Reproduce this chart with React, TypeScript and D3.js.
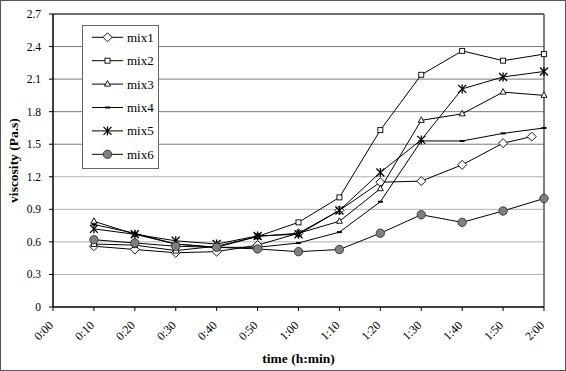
import * as d3 from "d3";

const W = 566;
const H = 371;
const M = { top: 14, right: 22, bottom: 64, left: 53 };

// time in minutes
const times = [10, 20, 30, 40, 50, 60, 70, 80, 90, 100, 110, 120];
const mix1Times = [10, 20, 30, 40, 50, 60, 70, 80, 90, 100, 110, 117];
const tickLabels = ["0:00", "0:10", "0:20", "0:30", "0:40", "0:50", "1:00", "1:10", "1:20", "1:30", "1:40", "1:50", "2:00"];
const yTicks = [0, 0.3, 0.6, 0.9, 1.2, 1.5, 1.8, 2.1, 2.4, 2.7];

const mix1 = [0.56, 0.53, 0.5, 0.51, 0.57, 0.68, 0.89, 1.15, 1.16, 1.31, 1.51, 1.57];
const mix2 = [0.58, 0.57, 0.52, 0.56, 0.65, 0.78, 1.01, 1.63, 2.14, 2.36, 2.27, 2.33];
const mix3 = [0.79, 0.67, 0.58, 0.55, 0.65, 0.68, 0.79, 1.09, 1.72, 1.78, 1.98, 1.95];
const mix4 = [0.76, 0.68, 0.58, 0.55, 0.55, 0.59, 0.69, 0.97, 1.53, 1.53, 1.6, 1.65];
const mix5 = [0.72, 0.67, 0.61, 0.58, 0.655, 0.67, 0.89, 1.24, 1.54, 2.01, 2.12, 2.17];
const mix6 = [0.62, 0.59, 0.56, 0.55, 0.535, 0.51, 0.53, 0.68, 0.85, 0.78, 0.885, 1.0];

const seriesNames = ["mix1", "mix2", "mix3", "mix4", "mix5", "mix6"];
const seriesValues = [mix1, mix2, mix3, mix4, mix5, mix6];
const seriesTimes = [mix1Times, times, times, times, times, times];

const FONT = "'Liberation Serif', 'Times New Roman', serif";

const Marker = ({ kind, x, y }: { kind: number; x: number; y: number }) => {
  if (kind === 0) {
    const s = 4.5;
    return (
      <path
        d={`M${x},${y - s}L${x + s},${y}L${x},${y + s}L${x - s},${y}Z`}
        fill="white"
        stroke="black"
        strokeWidth={0.9}
      />
    );
  }
  if (kind === 1) {
    return <rect x={x - 2.5} y={y - 2.5} width={5} height={5} fill="white" stroke="black" strokeWidth={0.9} />;
  }
  if (kind === 2) {
    return (
      <path
        d={`M${x},${y - 3.5}L${x + 3},${y + 2}L${x - 3},${y + 2}Z`}
        fill="white"
        stroke="black"
        strokeWidth={0.9}
      />
    );
  }
  if (kind === 3) {
    return <rect x={x - 2.5} y={y - 1} width={5} height={2} fill="black" />;
  }
  if (kind === 4) {
    const s = 4;
    return (
      <g stroke="black" strokeWidth={1.3}>
        <line x1={x - s} y1={y - s} x2={x + s} y2={y + s} />
        <line x1={x - s} y1={y + s} x2={x + s} y2={y - s} />
        <line x1={x} y1={y - s - 0.5} x2={x} y2={y + s + 0.5} />
      </g>
    );
  }
  return <circle cx={x} cy={y} r={4.2} fill="#7f7f7f" stroke="#333" strokeWidth={0.9} />;
};

export default function App() {
  const x = d3.scaleLinear().domain([0, 120]).range([M.left, W - M.right]);
  const y = d3.scaleLinear().domain([0, 2.7]).range([H - M.bottom, M.top]);
  const line = d3
    .line<[number, number]>()
    .x((d) => x(d[0]))
    .y((d) => y(d[1]));

  const x0 = M.left;
  const x1 = W - M.right;
  const yb = H - M.bottom;

  const legend = { x: 82, y: 25, w: 76, h: 143 };

  return (
    <>
      <style>{`body{margin:0}`}</style>
      <svg width={W} height={H} style={{ display: "block" }} fontFamily={FONT}>
        <rect x={0.5} y={0.5} width={W - 1} height={H - 1} fill="white" stroke="#555" />

        {/* gridlines */}
        {yTicks.slice(1).map((t) => (
          <line key={t} x1={x0} x2={x1} y1={y(t)} y2={y(t)} stroke={t >= 1.5 ? "#7a7a7a" : "#b0b0b0"} strokeWidth={1} />
        ))}
        <line x1={x0} x2={x1} y1={y(2.7)} y2={y(2.7)} stroke="#555" strokeWidth={1.5} />
        <line x1={x1} x2={x1} y1={y(2.7)} y2={yb} stroke="#555" strokeWidth={1.5} />

        {/* axes */}
        <line x1={x0} x2={x0} y1={M.top} y2={yb} stroke="black" strokeWidth={1.5} />
        <line x1={x0} x2={x1} y1={yb} y2={yb} stroke="black" strokeWidth={1.5} />
        {yTicks.map((t) => (
          <g key={t}>
            <line x1={x0 - 4} x2={x0} y1={y(t)} y2={y(t)} stroke="black" />
            <text x={x0 - 12} y={y(t)} dy="0.35em" textAnchor="end" fontSize={11.5}>
              {t === 0 ? "0" : t.toFixed(1)}
            </text>
          </g>
        ))}
        {tickLabels.map((lab, i) => {
          const tx = x(i * 10);
          return (
            <g key={lab}>
              <line x1={tx} x2={tx} y1={yb} y2={yb + 4} stroke="black" />
              <text
                transform={`translate(${tx - 2},${yb + 16}) rotate(-45)`}
                textAnchor="end"
                dy="0.35em"
                fontSize={12}
              >
                {lab}
              </text>
            </g>
          );
        })}

        {/* series */}
        {seriesValues.map((vals, si) => {
          const pts = vals.map((v, i) => [seriesTimes[si][i], v] as [number, number]);
          return (
            <g key={seriesNames[si]}>
              <path d={line(pts) ?? ""} fill="none" stroke="black" strokeWidth={1} />
              {pts.map((p, i) => (
                <Marker key={i} kind={si} x={x(p[0])} y={y(p[1])} />
              ))}
            </g>
          );
        })}

        {/* legend */}
        <rect x={legend.x + 0.5} y={legend.y + 0.5} width={legend.w} height={legend.h} fill="white" stroke="#666" />
        {seriesNames.map((name, i) => {
          const ly = 37.3 + i * 23.4;
          return (
            <g key={name}>
              <line x1={92} x2={123} y1={ly} y2={ly} stroke="black" />
              <Marker kind={i} x={107.5} y={ly} />
              <text x={127} y={ly} dy="0.35em" fontSize={13}>
                {name}
              </text>
            </g>
          );
        })}

        {/* titles */}
        <text x={(x0 + x1) / 2} y={363} textAnchor="middle" fontSize={13.5} fontWeight="bold">
          time (h:min)
        </text>
        <text transform={`translate(18,${(M.top + yb) / 2}) rotate(-90)`} textAnchor="middle" fontSize={13.5} fontWeight="bold">
          viscosity (Pa.s)
        </text>
      </svg>
    </>
  );
}
